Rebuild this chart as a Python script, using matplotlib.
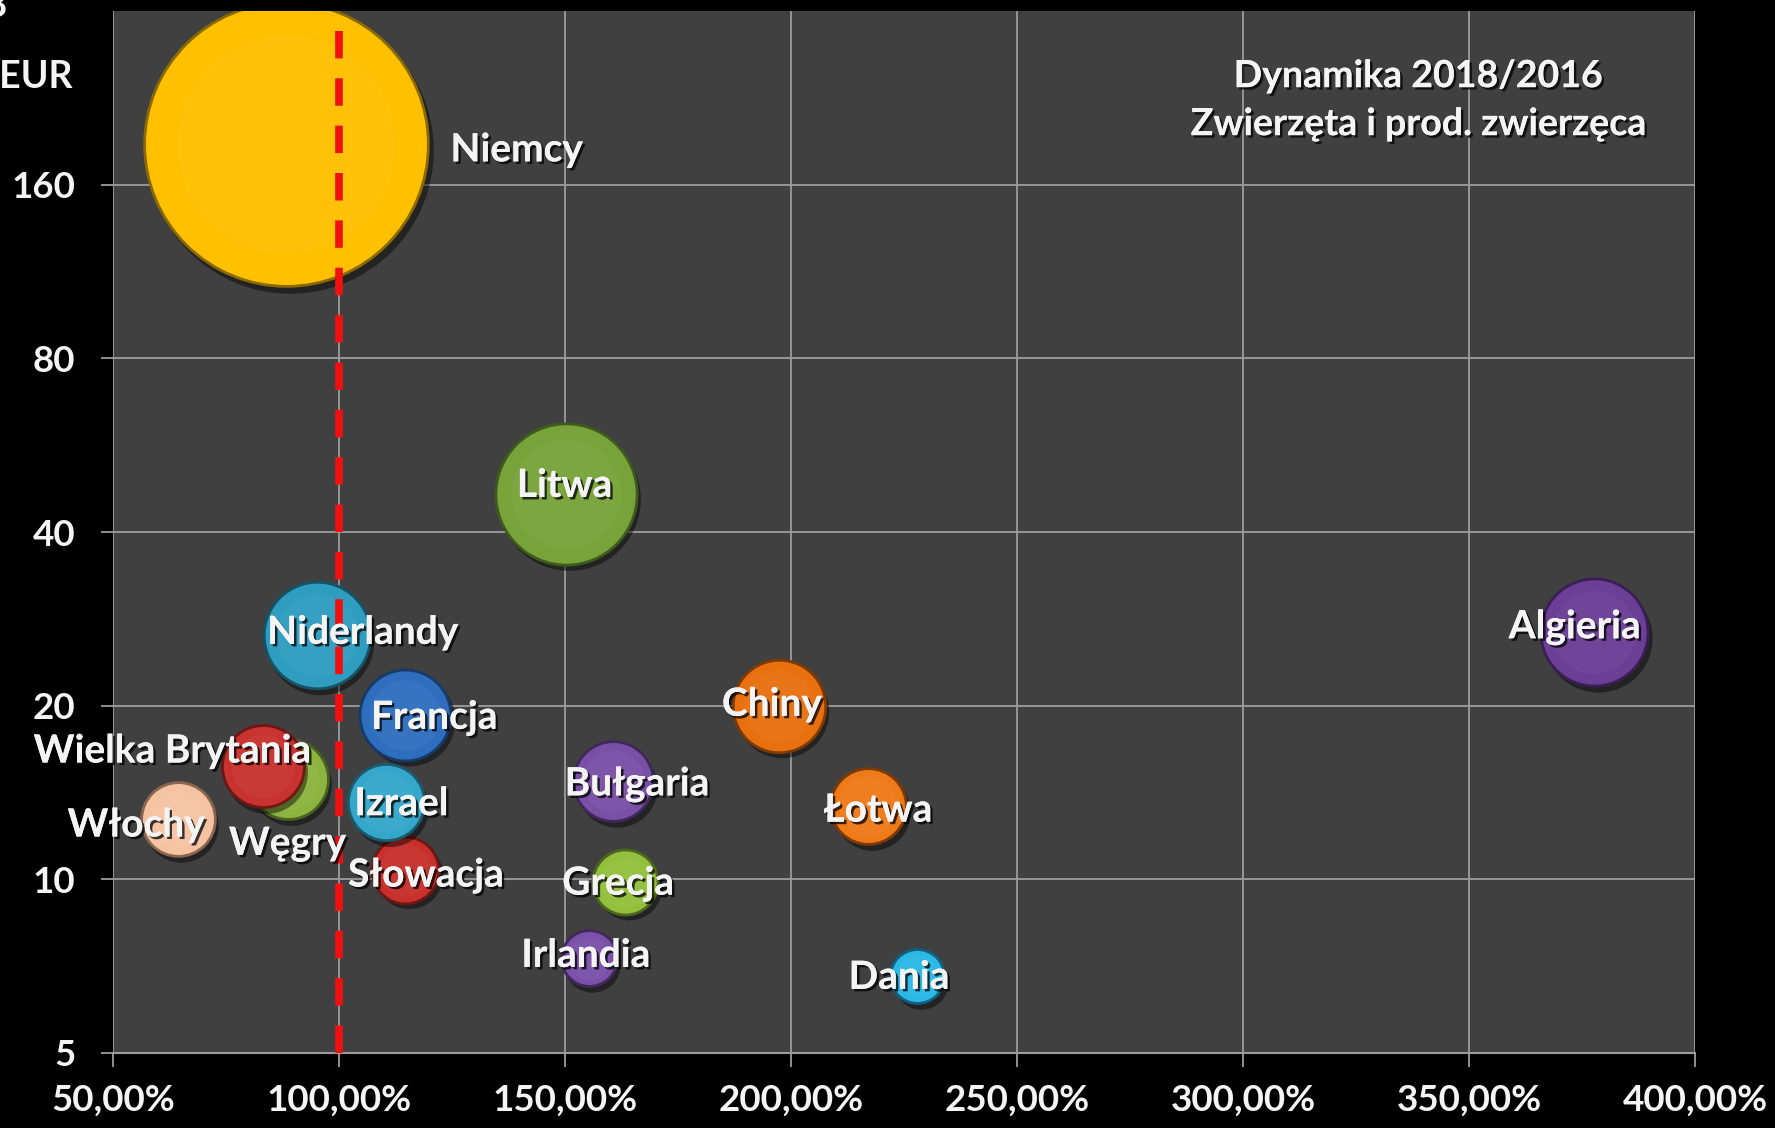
import matplotlib
matplotlib.use("Agg")
import matplotlib.pyplot as plt
import matplotlib.patheffects as pe
import matplotlib.transforms as mtransforms
from matplotlib.ticker import FixedLocator, FixedFormatter

# ---------------- data ----------------
countries = ["Niemcy", "Litwa", "Niderlandy", "Algieria", "Chiny", "Francja",
             "Węgry", "Wielka Brytania", "Włochy", "Słowacja", "Izrael",
             "Bułgaria", "Łotwa", "Grecja", "Irlandia", "Dania"]
dynamics = [88.3, 150.2, 95.1, 377.7, 197.3, 114.6,
            88.6, 83.1, 64.3, 114.6, 110.4,
            160.7, 217.1, 163.3, 155.2, 227.9]          # % 2018/2016
export_2018 = [188.0, 46.6, 26.5, 26.8, 20.0, 19.3,
               14.9, 15.7, 12.7, 10.4, 13.6,
               14.8, 13.4, 9.9, 7.3, 6.8]               # mln EUR (bubble size too)
x_ticks = [50, 100, 150, 200, 250, 300, 350, 400]
y_ticks = [5, 10, 20, 40, 80, 160]
title_lines = ["Dynamika 2018/2016", "Zwierzęta i prod. zwierzęca"]

# ---------------- styles ----------------
colors = ["#FFC000", "#77A33A", "#2E9DBF", "#6B3F96", "#E8700F", "#2F6EBF",
          "#8CB43F", "#C8322F", "#F6C3A2", "#C8302C", "#34A7CB",
          "#7A4FA6", "#EE7A18", "#93C03C", "#7A50A8", "#2BB8E6"]
edges = ["#8A6A00", "#3E5A1C", "#165366", "#3A1F55", "#7E3A05", "#173B69",
         "#4A6220", "#6E1715", "#8A6550", "#6E1715", "#1A5A6E",
         "#40285A", "#7E3A05", "#4C6620", "#40285A", "#126080"]
# label offsets in points (dx, dy) relative to bubble centre
label_offsets = [(166, -4), (-1, 6), (33, 2), (-14, 4), (-5, 1), (21, -2),
                 (0, -46), (-65, 11), (-30, -4), (15, -4), (11, -1),
                 (17, -2), (7, -3), (-5, -1), (-2, 2), (-13, -1)]
size_scale = 222.0

FONT = "Lato"
TXT = "#F4F4F4"
shadow = [pe.withSimplePatchShadow(offset=(1.8, -1.8), shadow_rgbFace="black", alpha=0.75),
          pe.Normal()]

fig = plt.figure(figsize=(17.75, 11.28), dpi=100, facecolor="black")
ax = fig.add_axes([0.0637, 0.0665, 0.8912, 0.9237])
ax.set_facecolor("#404040")
ax.set_yscale("log", base=2)
ax.set_xlim(50, 400)
ax.set_ylim(5, 320)

grid_c = "#9C9C9C"
ax.xaxis.set_major_locator(FixedLocator(x_ticks))
ax.xaxis.set_major_formatter(FixedFormatter([f"{v:.2f}".replace(".", ",") + "%" for v in x_ticks]))
ax.yaxis.set_major_locator(FixedLocator(y_ticks))
ax.yaxis.set_major_formatter(FixedFormatter([str(v) for v in y_ticks]))
ax.yaxis.set_minor_locator(FixedLocator([]))
ax.grid(True, color=grid_c, linewidth=1.3, zorder=0)
ax.set_axisbelow(True)
for s in ["top", "right", "left"]:
    ax.spines[s].set_visible(False)
ax.spines["bottom"].set_color(grid_c)
ax.spines["bottom"].set_linewidth(1.5)
ax.tick_params(axis="x", direction="out", length=10, width=1.3, color=grid_c,
               labelcolor=TXT, labelsize=26.5, pad=12)
ax.tick_params(axis="y", direction="out", length=9, width=1.3, color=grid_c,
               labelcolor=TXT, labelsize=26.5, pad=18)
for lab in ax.get_xticklabels() + ax.get_yticklabels():
    lab.set_fontfamily(FONT)
    lab.set_fontweight("bold")

shadow_tr = mtransforms.offset_copy(ax.transData, fig=fig, x=2.5, y=-4, units="points")

for i, (c, x, y) in enumerate(zip(countries, dynamics, export_2018)):
    s = y * size_scale
    z = 3 + i * 0.1
    ax.scatter([x], [y], s=s * 1.02, color="black", alpha=0.45, linewidths=0,
               transform=shadow_tr, zorder=z)
    ax.scatter([x], [y], s=s, color=colors[i], edgecolors=edges[i],
               linewidths=2.0, zorder=z + 0.01)
    ax.scatter([x], [y], s=s * 0.6, color="white", alpha=0.035, linewidths=0,
               zorder=z + 0.02)

# 100% reference line
ax.axvline(100, color="#F01010", linewidth=5.5, linestyle=(0, (3.6, 2.6)), zorder=6)

for i, (c, x, y) in enumerate(zip(countries, dynamics, export_2018)):
    dx, dy = label_offsets[i]
    ax.annotate(c, (x, y), xytext=(dx, dy), textcoords="offset points",
                ha="center", va="center", fontsize=28, fontfamily=FONT,
                fontweight="bold", color=TXT, path_effects=shadow, zorder=10)

ax.text(0.825, 0.9145, title_lines[0] + "\n" + title_lines[1], transform=ax.transAxes,
        ha="center", va="center", fontsize=27, fontfamily=FONT, fontweight="bold",
        color=TXT, linespacing=1.5, path_effects=shadow, zorder=10)

# axis title at top-left, partially outside the picture as in the reference
fig.text(0.0045, 0.995, "2018", ha="right", va="center", fontsize=27,
         fontfamily=FONT, fontweight="bold", color=TXT)
fig.text(0.041, 0.932, "mln EUR", ha="right", va="center", fontsize=27,
         fontfamily=FONT, fontweight="bold", color=TXT)

fig.savefig("out.png", dpi=100, facecolor="black")
